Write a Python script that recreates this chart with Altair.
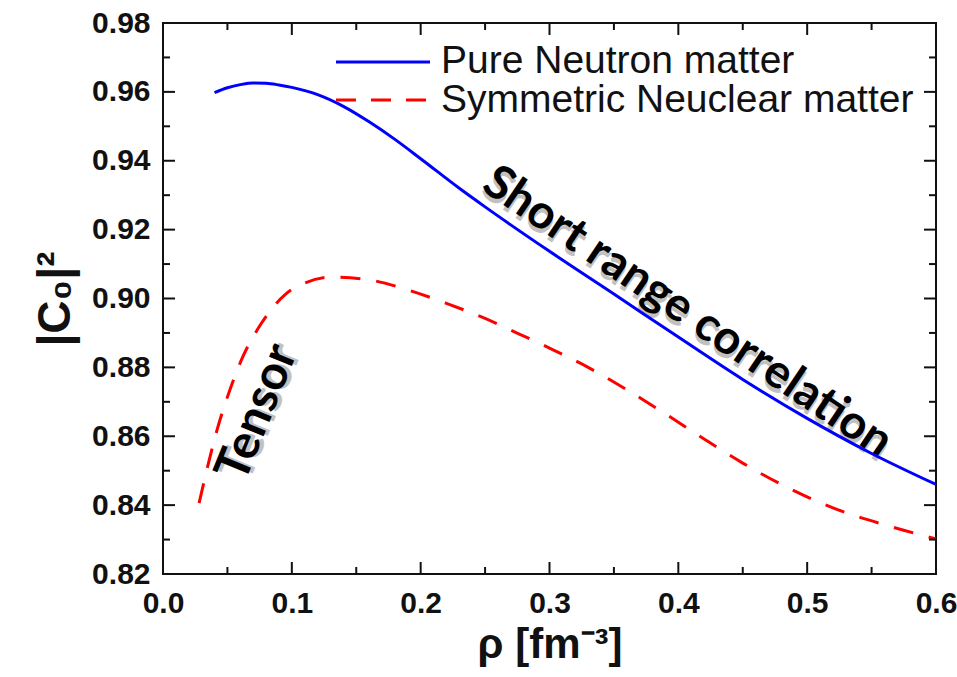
import altair as alt
import pandas as pd

# ---- data ----
pnm_rho = [0.04, 0.05, 0.06, 0.07, 0.08, 0.09, 0.10, 0.12, 0.14, 0.16, 0.18, 0.20,
           0.23, 0.25, 0.30, 0.35, 0.40, 0.45, 0.50, 0.55, 0.60]
pnm_c0 = [0.9598, 0.9612, 0.9621, 0.9626, 0.9625, 0.9620, 0.9613, 0.9592, 0.9558, 0.9513,
          0.9462, 0.9406, 0.9320, 0.9266, 0.9137, 0.9013, 0.8888, 0.8765, 0.8652, 0.8550, 0.8460]

snm_rho = [0.028, 0.034, 0.042, 0.051, 0.062, 0.075, 0.095, 0.11, 0.13, 0.16, 0.19,
           0.22, 0.25, 0.27, 0.30, 0.33, 0.36, 0.39, 0.42, 0.45, 0.48, 0.52, 0.56, 0.60]
snm_c0 = [0.8406, 0.8502, 0.8619, 0.8725, 0.8831, 0.8920, 0.9012, 0.9045, 0.9062, 0.9054, 0.9025,
          0.8986, 0.8942, 0.8908, 0.8856, 0.8800, 0.8735, 0.8665, 0.8592, 0.8522, 0.8460,
          0.8392, 0.8343, 0.8302]

x_major = [0.0, 0.1, 0.2, 0.3, 0.4, 0.5, 0.6]
x_minor = [0.05, 0.15, 0.25, 0.35, 0.45, 0.55]
y_major = [0.82, 0.84, 0.86, 0.88, 0.90, 0.92, 0.94, 0.96, 0.98]
y_minor = [0.83, 0.85, 0.87, 0.89, 0.91, 0.93, 0.95, 0.97]

legend_labels = ["Pure Neutron matter", "Symmetric Neuclear matter"]
annotations = ["Tensor", "Short range correlation"]

W, H = 773, 551

pnm = pd.DataFrame({"rho": pnm_rho, "c0": pnm_c0})
snm = pd.DataFrame({"rho": snm_rho, "c0": snm_c0})
xmaj = pd.DataFrame({"rho": x_major})
xmin = pd.DataFrame({"rho": x_minor})
ymaj = pd.DataFrame({"c0": y_major})
ymin = pd.DataFrame({"c0": y_minor})

xs = alt.Scale(domain=[0, 0.6], nice=False, zero=False)
ys = alt.Scale(domain=[0.82, 0.98], nice=False, zero=False)

xaxis = alt.Axis(values=x_major, format=".1f", title="ρ [fm⁻³]", ticks=False, tickSize=0,
                 domain=False, grid=False, labelFlush=False, labelOverlap=False,
                 labelFont="Liberation Sans", labelFontWeight="bold", labelFontSize=30,
                 labelColor="#111", labelPadding=14,
                 titleFont="Liberation Sans", titleFontWeight="bold", titleFontSize=42,
                 titleColor="#111", titlePadding=6)
yaxis = alt.Axis(values=y_major, format=".2f", title="|C₀|²", ticks=False, tickSize=0,
                 domain=False, grid=False, labelFlush=False, labelOverlap=False,
                 labelFont="Liberation Sans", labelFontWeight="bold", labelFontSize=30,
                 labelColor="#111", labelPadding=13,
                 titleFont="Liberation Sans", titleFontWeight="bold", titleFontSize=46,
                 titleColor="#111", titlePadding=12)

X = alt.X("rho:Q", scale=xs, axis=xaxis)
Y = alt.Y("c0:Q", scale=ys, axis=yaxis)

blue = alt.Chart(pnm).mark_line(color="#0000ff", strokeWidth=3, interpolate="monotone").encode(x=X, y=Y)
red = alt.Chart(snm).mark_line(color="#ff0000", strokeWidth=3, strokeDash=[20, 16],
                               interpolate="monotone").encode(x=X, y=Y)

tick_style = dict(color="#111", strokeWidth=2)
bt_maj = alt.Chart(xmaj).mark_rule(**tick_style).encode(x=X, y=alt.value(H), y2=alt.value(H - 12))
bt_min = alt.Chart(xmin).mark_rule(**tick_style).encode(x=X, y=alt.value(H), y2=alt.value(H - 7))
tt_maj = alt.Chart(xmaj).mark_rule(**tick_style).encode(x=X, y=alt.value(0), y2=alt.value(12))
tt_min = alt.Chart(xmin).mark_rule(**tick_style).encode(x=X, y=alt.value(0), y2=alt.value(7))
lt_maj = alt.Chart(ymaj).mark_rule(**tick_style).encode(y=Y, x=alt.value(0), x2=alt.value(12))
lt_min = alt.Chart(ymin).mark_rule(**tick_style).encode(y=Y, x=alt.value(0), x2=alt.value(7))
rt_maj = alt.Chart(ymaj).mark_rule(**tick_style).encode(y=Y, x=alt.value(W), x2=alt.value(W - 12))
rt_min = alt.Chart(ymin).mark_rule(**tick_style).encode(y=Y, x=alt.value(W), x2=alt.value(W - 7))

# legend (inside the plot, top right)
leg_blue = alt.Chart(pnm.head(1)).mark_rule(color="#0000ff", strokeWidth=3).encode(
    x=alt.value(173), x2=alt.value(267), y=alt.value(39))
leg_red = alt.Chart(pnm.head(1)).mark_rule(color="#ff0000", strokeWidth=3, strokeDash=[20, 15]).encode(
    x=alt.value(173), x2=alt.value(267), y=alt.value(77))
leg_t1 = alt.Chart(pnm.head(1)).mark_text(text=legend_labels[0], align="left", baseline="middle",
                                          font="Liberation Sans", fontSize=39, color="#111").encode(
    x=alt.value(278), y=alt.value(38))
leg_t2 = alt.Chart(pnm.head(1)).mark_text(text=legend_labels[1], align="left", baseline="middle",
                                          font="Liberation Sans", fontSize=39, color="#111").encode(
    x=alt.value(278), y=alt.value(77))

# annotations with a soft shadow
ann = pd.DataFrame({"rho": [0.0736, 0.407], "c0": [0.8668, 0.8960], "label": annotations})
t_df = ann.iloc[[0]]
s_df = ann.iloc[[1]]


def ann_layer(df, angle, size, shadow):
    kw = dict(angle=angle, font="Lato", fontWeight="bold", fontSize=size,
              align="center", baseline="middle")
    if shadow:
        kw.update(color="#666", opacity=0.4, dx=2, dy=4)
    else:
        kw.update(color="#000")
    return alt.Chart(df).mark_text(**kw).encode(x=X, y=Y, text="label:N")


layers = [
    ann_layer(t_df, 292, 48, True), ann_layer(s_df, 34, 47, True),
    ann_layer(t_df, 292, 48, False), ann_layer(s_df, 34, 47, False),
    blue, red,
    bt_maj, bt_min, tt_maj, tt_min, lt_maj, lt_min, rt_maj, rt_min,
    leg_blue, leg_red, leg_t1, leg_t2,
]

chart = alt.layer(*layers).properties(
    width=W, height=H,
    autosize=alt.AutoSizeParams(type="none"),
    padding={"left": 163, "top": 23, "right": 21, "bottom": 103},
    background="white",
).configure_view(stroke="#111", strokeWidth=2)

chart.save("out.html", embed_options={"renderer": "svg", "actions": False})
